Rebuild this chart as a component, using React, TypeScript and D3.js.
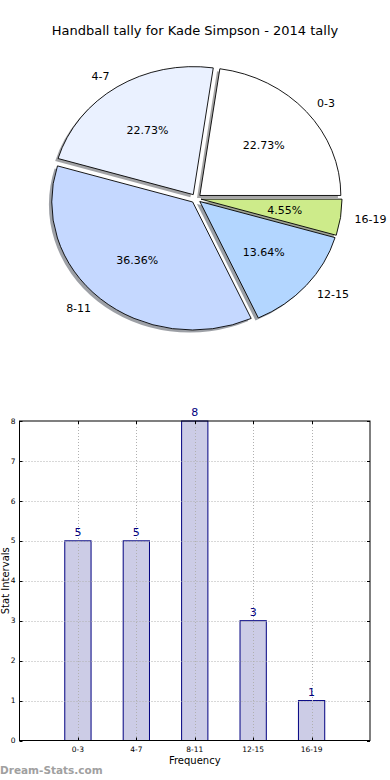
import { useEffect, useRef } from "react"
import * as d3 from "d3"

const categories = ["0-3", "4-7", "8-11", "12-15", "16-19"]
const counts = [5, 5, 8, 3, 1]
const sliceColors = ["#ffffff", "#eaf1ff", "#c5d8ff", "#b3d6ff", "#cdeb8a"]
const yTicks = [0, 1, 2, 3, 4, 5, 6, 7, 8]

const title = "Handball tally for Kade Simpson - 2014 tally"
const font = "'DejaVu Sans', sans-serif"

export default function App() {
  const svgRef = useRef<SVGSVGElement>(null)

  useEffect(() => {
    if (!svgRef.current) return
    const svg = d3.select(svgRef.current)
    svg.selectAll("*").remove()
    svg.style("font-family", font)

    svg.append("rect").attr("width", 390).attr("height", 780).attr("fill", "#fff")

    // title
    svg.append("text")
      .attr("x", 195).attr("y", 35)
      .attr("text-anchor", "middle")
      .attr("font-size", "13px")
      .text(title)

    // ---- pie (elliptical, like matplotlib without equal aspect) ----
    const cx = 196, cy = 198.5, rx = 141, ry = 128
    const explode = 0.036
    const total = d3.sum(counts)

    const pie = d3.pie<number>().sort(null).startAngle(Math.PI / 2).endAngle(Math.PI / 2 - 2 * Math.PI)
    const arcs = pie(counts)
    const arc = d3.arc<d3.PieArcDatum<number>>().innerRadius(0).outerRadius(1)

    // d3 angle -> matplotlib-style theta (ccw from +x)
    const mid = (d: d3.PieArcDatum<number>) => Math.PI / 2 - (d.startAngle + d.endAngle) / 2
    const offset = (d: d3.PieArcDatum<number>) => {
      const t = mid(d)
      return [explode * rx * Math.cos(t), -explode * ry * Math.sin(t)]
    }

    const pieG = svg.append("g")

    // shadows
    pieG.selectAll("path.shadow")
      .data(arcs)
      .join("path")
      .attr("class", "shadow")
      .attr("transform", d => {
        const [ox, oy] = offset(d)
        return `translate(${cx + ox - 0.02 * rx},${cy + oy + 0.02 * ry}) scale(${rx},${ry})`
      })
      .attr("d", arc)
      .attr("fill", (_, i) => {
        const c = d3.rgb(sliceColors[i])
        return d3.rgb(c.r * 0.3, c.g * 0.3, c.b * 0.3).toString()
      })
      .attr("fill-opacity", 0.5)

    // slices
    pieG.selectAll("path.slice")
      .data(arcs)
      .join("path")
      .attr("class", "slice")
      .attr("transform", d => {
        const [ox, oy] = offset(d)
        return `translate(${cx + ox},${cy + oy}) scale(${rx},${ry})`
      })
      .attr("d", arc)
      .attr("fill", (_, i) => sliceColors[i])
      .attr("stroke", "#000")
      .attr("stroke-width", 0.9)
      .attr("vector-effect", "non-scaling-stroke")

    // category labels
    pieG.selectAll("text.label")
      .data(arcs)
      .join("text")
      .attr("class", "label")
      .attr("x", d => cx + offset(d)[0] + 1.1 * rx * Math.cos(mid(d)))
      .attr("y", d => cy + offset(d)[1] - 1.1 * ry * Math.sin(mid(d)))
      .attr("dy", "0.35em")
      .attr("text-anchor", d => (Math.cos(mid(d)) > 0 ? "start" : "end"))
      .attr("font-size", "11px")
      .text((_, i) => categories[i])

    // percentages
    pieG.selectAll("text.pct")
      .data(arcs)
      .join("text")
      .attr("class", "pct")
      .attr("x", d => cx + offset(d)[0] + 0.6 * rx * Math.cos(mid(d)))
      .attr("y", d => cy + offset(d)[1] - 0.6 * ry * Math.sin(mid(d)))
      .attr("dy", "0.35em")
      .attr("text-anchor", "middle")
      .attr("font-size", "11px")
      .text(d => ((d.data / total) * 100).toFixed(2) + "%")

    // ---- bar chart ----
    const left = 19.5, right = 370, top = 421, bottom = 740.5
    const x = d3.scaleLinear().domain([-1, 5]).range([left, right])
    const y = d3.scaleLinear().domain([0, 8]).range([bottom, top])
    const barW = 0.45

    const barG = svg.append("g")

    barG.selectAll("rect.bar")
      .data(counts)
      .join("rect")
      .attr("class", "bar")
      .attr("x", (_, i) => x(i - barW / 2))
      .attr("width", x(barW) - x(0))
      .attr("y", d => y(d))
      .attr("height", d => y(0) - y(d))
      .attr("fill", "rgb(204,204,230)")
      .attr("stroke", "navy")
      .attr("stroke-width", 1)

    // grid (on top of bars)
    const grid = barG.append("g")
      .attr("stroke", "#b0b0b0")
      .attr("stroke-width", 1)
      .attr("stroke-dasharray", "1,2")
    grid.selectAll("line.gy")
      .data(yTicks.slice(1, -1))
      .join("line")
      .attr("x1", left).attr("x2", right)
      .attr("y1", d => Math.round(y(d)) + 0.5).attr("y2", d => Math.round(y(d)) + 0.5)
    grid.selectAll("line.gx")
      .data(categories)
      .join("line")
      .attr("x1", (_, i) => Math.round(x(i)) + 0.5).attr("x2", (_, i) => Math.round(x(i)) + 0.5)
      .attr("y1", top).attr("y2", bottom)

    // value labels
    barG.selectAll("text.val")
      .data(counts)
      .join("text")
      .attr("class", "val")
      .attr("x", (_, i) => x(i))
      .attr("y", d => y(d) - 5)
      .attr("text-anchor", "middle")
      .attr("font-size", "11px")
      .attr("fill", "navy")
      .text(d => d)

    // frame
    barG.append("rect")
      .attr("x", left).attr("y", top)
      .attr("width", right - left).attr("height", bottom - top)
      .attr("fill", "none").attr("stroke", "#000").attr("stroke-width", 1)

    // ticks (inside, both sides)
    const ticks = barG.append("g").attr("stroke", "#000").attr("stroke-width", 1)
    yTicks.forEach(t => {
      const yy = Math.round(y(t)) + 0.5
      ticks.append("line").attr("x1", left).attr("x2", left + 3).attr("y1", yy).attr("y2", yy)
      ticks.append("line").attr("x1", right - 3).attr("x2", right).attr("y1", yy).attr("y2", yy)
    })
    categories.forEach((_, i) => {
      const xx = Math.round(x(i)) + 0.5
      ticks.append("line").attr("x1", xx).attr("x2", xx).attr("y1", bottom).attr("y2", bottom - 3)
      ticks.append("line").attr("x1", xx).attr("x2", xx).attr("y1", top).attr("y2", top + 3)
    })

    barG.selectAll("text.ytick")
      .data(yTicks)
      .join("text")
      .attr("class", "ytick")
      .attr("x", left - 4)
      .attr("y", d => y(d))
      .attr("dy", "0.35em")
      .attr("text-anchor", "end")
      .attr("font-size", "7.5px")
      .text(d => d)

    barG.selectAll("text.xtick")
      .data(categories)
      .join("text")
      .attr("class", "xtick")
      .attr("x", (_, i) => x(i))
      .attr("y", bottom + 11)
      .attr("text-anchor", "middle")
      .attr("font-size", "7.5px")
      .text(d => d)

    barG.append("text")
      .attr("x", x(2)).attr("y", 764)
      .attr("text-anchor", "middle")
      .attr("font-size", "10px")
      .text("Frequency")

    barG.append("text")
      .attr("transform", `translate(9,${(top + bottom) / 2}) rotate(-90)`)
      .attr("text-anchor", "middle")
      .attr("font-size", "10px")
      .text("Stat Intervals")

    // watermark
    svg.append("text")
      .attr("x", 0).attr("y", 774)
      .attr("font-size", "10.5px")
      .attr("font-weight", "bold")
      .attr("fill", "#a0a0a0")
      .text("Dream-Stats.com")
  }, [])

  return (
    <svg ref={svgRef} width={390} height={780}
      style={{ position: "absolute", left: 0, top: 0, display: "block" }} />
  )
}
